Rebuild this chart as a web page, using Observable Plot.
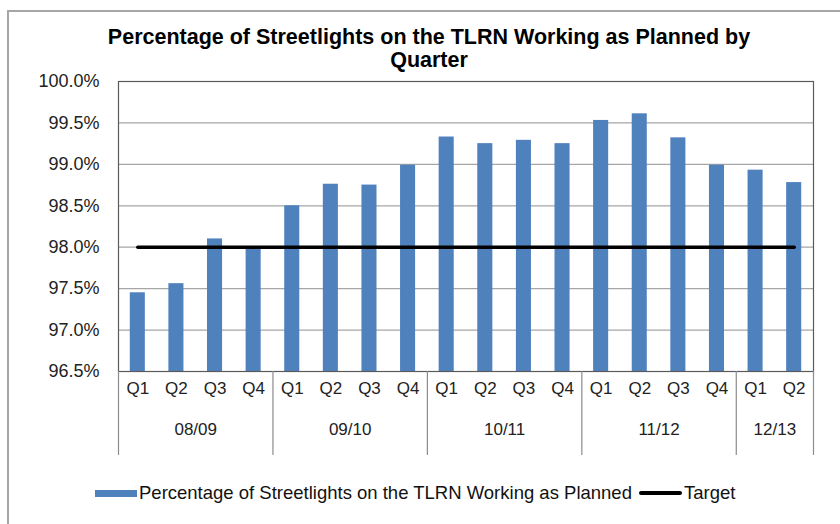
<!DOCTYPE html>
<html>
<head>
<meta charset="utf-8">
<script src="https://cdn.jsdelivr.net/npm/d3@7"></script>
<script src="https://cdn.jsdelivr.net/npm/@observablehq/plot@0.6"></script>
<style>
  html, body { margin: 0; padding: 0; background: #fff; }
  body { font-family: "Liberation Sans", Arial, sans-serif; }
  #wrap { position: relative; width: 840px; height: 524px; overflow: hidden; }
  #border { position: absolute; left: 7px; top: 10px; width: 900px; height: 600px; border: 2px solid #a6a6a6; box-sizing: border-box; }
  #title { position: absolute; left: 0; width: 858px; top: 26px; text-align: center; font-weight: bold; font-size: 21.5px; line-height: 23px; color: #000; }
  #chart { position: absolute; left: 0; top: 0; }
  #legend { position: absolute; top: 482px; left: 95px; height: 22px; display: flex; align-items: center; font-size: 18.5px; color: #111; white-space: nowrap; }
  .sw-bar { display: inline-block; width: 42px; height: 7px; background: #4f81bd; margin-right: 2px; }
  .sw-line { display: inline-block; width: 43px; height: 4px; background: #000; margin: 0 2px 0 7px; border-radius: 2px; }
</style>
</head>
<body>
<div id="wrap">
  <div id="border"></div>
  <div id="title">Percentage of Streetlights on the TLRN Working as Planned by<br>Quarter</div>
  <div id="chart"></div>
  <div id="legend"><span class="sw-bar"></span><span>Percentage of Streetlights on the TLRN Working as Planned</span><span class="sw-line"></span><span>Target</span></div>
</div>
<script>
const years = ["08/09", "09/10", "10/11", "11/12", "12/13"];
const quartersPerYear = [4, 4, 4, 4, 2];
const quarterLabels = ["Q1", "Q2", "Q3", "Q4"];
const values = [97.45, 97.56, 98.10, 97.99, 98.50, 98.76, 98.75, 98.99, 99.33, 99.25, 99.29, 99.25, 99.53, 99.61, 99.32, 98.99, 98.93, 98.78];
const targetValue = 98.0;
const yTicks = [96.5, 97.0, 97.5, 98.0, 98.5, 99.0, 99.5, 100.0];

// build table
const rows = [];
years.forEach((yr, i) => {
  for (let q = 0; q < quartersPerYear[i]; q++) {
    rows.push({key: yr + " " + quarterLabels[q], year: yr, quarter: quarterLabels[q], value: values[rows.length], target: targetValue});
  }
});
const keys = rows.map(d => d.key);

const W = 840, H = 470, mL = 118, mR = 27, mT = 81, mB = 99;
const step = (W - mL - mR) / keys.length;

// group label anchors & separators
const groupLabels = [];
const separators = [];
let idx = 0;
years.forEach((yr, i) => {
  const n = quartersPerYear[i];
  groupLabels.push({key: keys[idx + n / 2 - 1], year: yr});
  separators.push({key: keys[idx], side: -1});
  idx += n;
});
separators.push({key: keys[keys.length - 1], side: 1});

const chart = Plot.plot({
  width: W, height: H,
  marginLeft: mL, marginRight: mR, marginTop: mT, marginBottom: mB,
  style: {fontFamily: "'Liberation Sans', Arial, sans-serif", background: "transparent", overflow: "visible"},
  x: {domain: keys, type: "band", paddingInner: 0.61, paddingOuter: 0.305, round: false, axis: null},
  y: {domain: [yTicks[0], yTicks[yTicks.length - 1]], axis: null},
  marks: [
    Plot.ruleY(yTicks.slice(1, -1), {stroke: "#a6a6a6", strokeWidth: 1.2}),
    Plot.barY(rows, {x: "key", y1: yTicks[0], y2: "value", fill: "#4f81bd"}),
    Plot.lineY(rows, {x: "key", y: "target", stroke: "#000", strokeWidth: 3.5, strokeLinecap: "round"}),
    Plot.frame({stroke: "#5a5a5a", strokeWidth: 1.2}),
    Plot.axisY(yTicks, {tickSize: 0, tickPadding: 19, fontSize: 18, fill: "#222", tickFormat: d => d.toFixed(1) + "%"}),
    Plot.ruleX(separators.filter(d => d.side < 0), {x: "key", dx: -step / 2, stroke: "#8c8c8c", strokeWidth: 1.2, insetTop: H - mT - mB, insetBottom: -84}),
    Plot.ruleX(separators.filter(d => d.side > 0), {x: "key", dx: step / 2, stroke: "#8c8c8c", strokeWidth: 1.2, insetTop: H - mT - mB, insetBottom: -84}),
    Plot.text(rows, {x: "key", text: "quarter", frameAnchor: "bottom", dy: 22, fontSize: 17, fill: "#222"}),
    Plot.text(groupLabels, {x: "key", text: "year", frameAnchor: "bottom", dx: step / 2, dy: 63, fontSize: 17, fill: "#222"})
  ]
});
document.getElementById("chart").appendChild(chart);
</script>
</body>
</html>
